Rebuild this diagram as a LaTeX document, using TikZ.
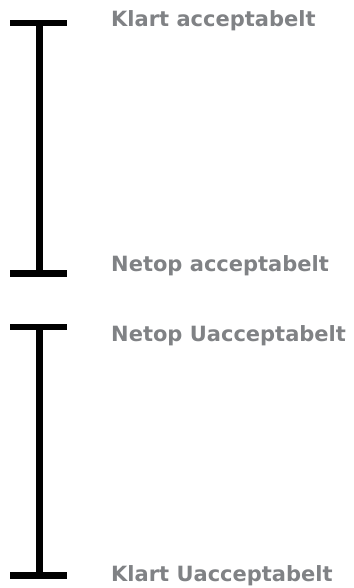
\documentclass[tikz,border=0pt]{standalone}
\usepackage{fontspec}
\setmainfont{DejaVu Sans}
\definecolor{lbl}{RGB}{128,130,133}
\begin{document}
\begin{tikzpicture}[x=1pt,y=-1pt,
  bar/.style={line width=6.5pt,black},
  lab/.style={anchor=base west,inner sep=0pt,text=lbl,font=\bfseries\fontsize{21}{23}\selectfont}]
\useasboundingbox (0,0) rectangle (353,588);
% bracket 1
\coordinate (a1) at (10,23);
\coordinate (a2) at (67,23);
\coordinate (at) at (39.5,23);
\coordinate (ab) at (39.5,273.5);
\coordinate (b1) at (10,273.5);
\coordinate (b2) at (67,273.5);
\draw[bar] (a1) -- (a2);
\draw[bar] (b1) -- (b2);
\draw[bar] (at) -- (ab);
% bracket 2
\coordinate (c1) at (10,327);
\coordinate (c2) at (67,327);
\coordinate (ct) at (39.5,327);
\coordinate (cb) at (39.5,575.5);
\coordinate (d1) at (10,575.5);
\coordinate (d2) at (67,575.5);
\draw[bar] (c1) -- (c2);
\draw[bar] (d1) -- (d2);
\draw[bar] (ct) -- (cb);
% labels
\node[lab] (t1) at (111,27) {Klart acceptabelt};
\node[lab] (t2) at (111,271) {Netop acceptabelt};
\node[lab] (t3) at (111,341) {Netop Uacceptabelt};
\node[lab] (t4) at (111,581) {Klart Uacceptabelt};
\end{tikzpicture}
\end{document}
